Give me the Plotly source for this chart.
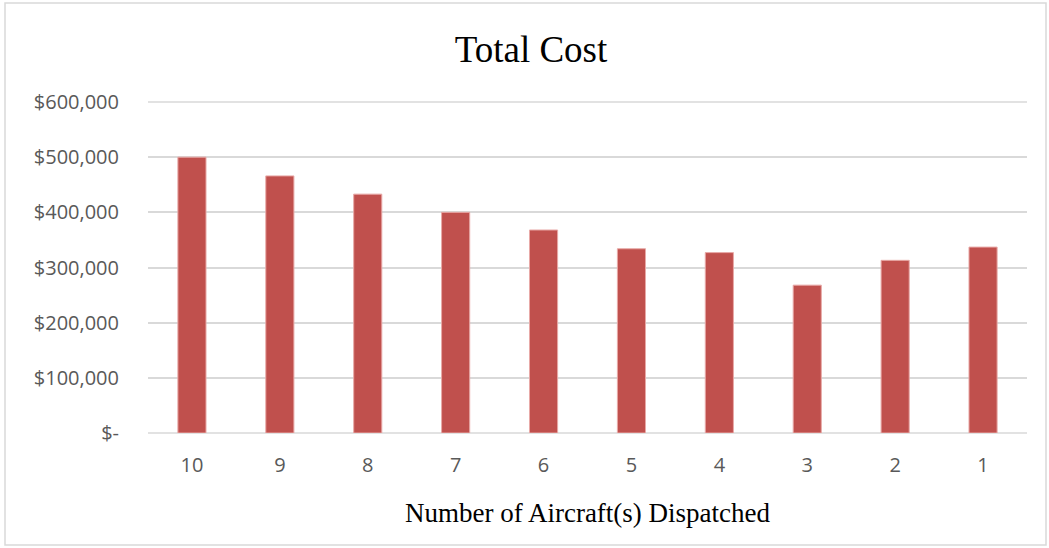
import plotly.graph_objects as go

categories = ["10", "9", "8", "7", "6", "5", "4", "3", "2", "1"]
total_cost = [500000, 466000, 433000, 400000, 368000, 334000, 327000, 268000, 313000, 337000]
y_tickvals = [0, 100000, 200000, 300000, 400000, 500000, 600000]
y_ticktext = ["$-", "$100,000", "$200,000", "$300,000", "$400,000", "$500,000", "$600,000"]

W, H = 1049, 548
L, R, T, B = 148, 22, 102, 115

fig = go.Figure(go.Bar(
    x=categories, y=total_cost,
    marker=dict(color="#c0504d", line=dict(color="#e8a9a7", width=1)),
    width=0.32,
))

pw = W - L - R
ph = H - T - B
def px(x): return (x - L) / pw
def py(y): return (H - B - y) / ph

# grid lines at the two ends of the value range (not clipped)
edge_lines = [dict(type="line", xref="paper", yref="paper", x0=0, x1=1, y0=p, y1=p,
                   line=dict(color="#d9d9d9", width=1.5), layer="below")
              for p in (0, 1)]

fig.update_layout(
    width=W, height=H,
    margin=dict(l=L, r=R, t=T, b=B),
    paper_bgcolor="white", plot_bgcolor="white",
    showlegend=False,
    title=dict(text="Total Cost", x=531 / W, xanchor="center", y=1 - 49 / H, yanchor="middle",
               font=dict(family="Liberation Serif", size=37, color="black")),
    xaxis=dict(
        type="category", showgrid=False, zeroline=False,
        showline=False, ticks="",
        tickfont=dict(family="Open Sans", size=20, color="#595959"),
        ticklabelstandoff=18,
        title=dict(text="Number of Aircraft(s) Dispatched", standoff=26,
                   font=dict(family="Liberation Serif", size=27, color="black")),
    ),
    yaxis=dict(
        range=[y_tickvals[0], y_tickvals[-1]], tickvals=y_tickvals, ticktext=y_ticktext,
        showgrid=True, gridcolor="#d9d9d9", gridwidth=1.5,
        zeroline=False, showline=False, ticks="",
        tickfont=dict(family="Open Sans", size=20, color="#595959"),
        ticklabelstandoff=28,
    ),
    shapes=[dict(type="rect", xref="paper", yref="paper",
                 x0=px(5), x1=px(1046), y0=py(3), y1=py(545),
                 line=dict(color="#d9d9d9", width=1.5), fillcolor="rgba(0,0,0,0)", layer="below")]
           + edge_lines,
)

fig.write_html("out.html")
